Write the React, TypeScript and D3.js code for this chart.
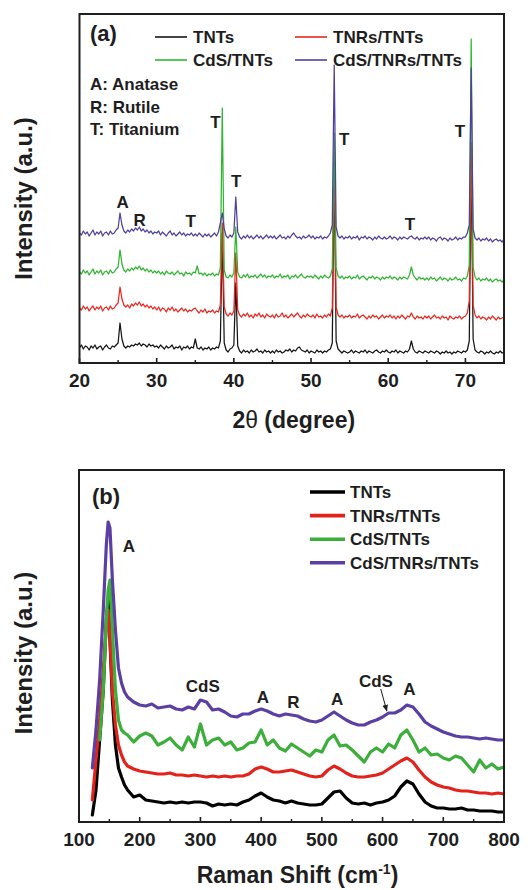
import React from "react";
import * as d3 from "d3";

const FONT = "'Liberation Sans', Arial, Helvetica, sans-serif";

const seriesNames = ["TNTs", "TNRs/TNTs", "CdS/TNTs", "CdS/TNRs/TNTs"];
const xrdColors = ["#151515", "#e8271f", "#2fb52f", "#4f409e"];
const ramanColors = ["#000000", "#e3231b", "#3cae3a", "#5b3fa3"];

// ---------- (a) XRD patterns, 2θ = 20°…75° sampled every 0.25° ----------
const xrdTwoTheta = d3.range(0, 221).map((i) => 20 + i * 0.25);

const xrdTNTs = [
  15, 18, 14, 17, 16, 13, 17, 15, 18, 14, 16, 17, 13, 16, 18, 15, 14, 17, 16, 18,
  20, 40, 24, 17, 15, 17, 16, 18, 17, 19, 18, 20, 17, 19, 18, 16, 19, 17, 18, 16,
  17, 15, 18, 16, 14, 17, 15, 16, 18, 14, 16, 15, 17, 13, 16, 15, 17, 14, 16, 15,
  24, 15, 14, 16, 13, 15, 14, 16, 13, 15, 14, 16, 15, 22, 130, 20, 13, 11, 14, 15,
  18, 80, 17, 12, 10, 13, 11, 12, 10, 13, 11, 12, 14, 11, 12, 10, 13, 11, 12, 10,
  12, 10, 13, 11, 12, 10, 11, 13, 12, 14, 11, 13, 12, 15, 16, 13, 12, 11, 13, 10,
  12, 11, 10, 13, 11, 12, 10, 12, 11, 13, 14, 20, 200, 22, 14, 12, 10, 12, 11, 10,
  11, 13, 10, 12, 11, 10, 12, 11, 13, 10, 12, 11, 10, 12, 13, 11, 10, 12, 11, 13,
  11, 10, 12, 11, 13, 10, 12, 11, 10, 12, 11, 14, 22, 14, 11, 10, 12, 11, 10, 12,
  11, 10, 12, 11, 10, 12, 11, 9, 11, 10, 12, 10, 11, 9, 11, 10, 12, 11, 10, 12,
  11, 13, 22, 200, 24, 13, 11, 10, 12, 11, 9, 11, 10, 12, 10, 9, 11, 10, 12, 10,
  11,
];

const xrdTNRs = [
  55, 53, 57, 54, 56, 52, 55, 57, 53, 56, 54, 57, 52, 55, 56, 53, 57, 54, 55, 58,
  60, 76, 64, 58, 56, 58, 55, 59, 57, 60, 58, 61, 57, 59, 56, 58, 55, 57, 54, 56,
  53, 56, 52, 55, 54, 51, 55, 53, 56, 52, 54, 51, 53, 55, 52, 54, 51, 53, 52, 54,
  55, 52, 50, 53, 51, 54, 50, 52, 51, 53, 50, 52, 51, 58, 140, 56, 49, 47, 50, 48,
  52, 110, 53, 48, 46, 49, 47, 50, 46, 48, 45, 49, 47, 50, 46, 48, 45, 49, 47, 46,
  48, 45, 49, 46, 47, 50, 46, 48, 45, 47, 49, 46, 48, 50, 47, 45, 48, 46, 49, 47,
  46, 48, 45, 49, 46, 47, 45, 48, 46, 49, 47, 55, 210, 56, 48, 46, 48, 45, 47, 46,
  48, 45, 47, 46, 49, 45, 47, 48, 46, 44, 47, 45, 48, 46, 47, 44, 46, 48, 45, 47,
  46, 48, 45, 47, 44, 47, 45, 48, 46, 44, 47, 46, 50, 46, 44, 47, 45, 46, 44, 47,
  45, 47, 44, 46, 48, 45, 46, 44, 47, 45, 46, 43, 47, 45, 44, 46, 45, 47, 44, 46,
  47, 50, 62, 220, 58, 48, 45, 47, 44, 46, 45, 43, 46, 44, 47, 45, 43, 46, 44, 45,
  46,
];

const xrdCdS = [
  91, 89, 93, 90, 92, 88, 91, 94, 89, 92, 90, 93, 88, 91, 92, 89, 93, 90, 91, 94,
  96, 113, 99, 93, 91, 94, 92, 95, 93, 96, 94, 97, 93, 95, 92, 94, 91, 93, 90, 92,
  90, 92, 89, 91, 88, 92, 90, 89, 91, 88, 90, 92, 89, 90, 87, 91, 89, 90, 88, 91,
  90, 97, 89, 90, 88, 90, 87, 89, 88, 90, 87, 89, 88, 95, 255, 93, 86, 85, 88, 86,
  90, 136, 91, 86, 85, 88, 86, 89, 85, 87, 86, 88, 85, 87, 89, 86, 88, 85, 87, 86,
  88, 85, 87, 86, 89, 85, 87, 86, 88, 84, 87, 86, 88, 85, 87, 89, 86, 85, 87, 86,
  87, 85, 88, 86, 84, 87, 85, 88, 86, 85, 87, 94, 230, 95, 87, 85, 87, 84, 86, 85,
  87, 84, 86, 85, 88, 84, 86, 87, 85, 83, 86, 85, 87, 84, 86, 85, 83, 86, 84, 86,
  85, 87, 84, 86, 85, 83, 86, 84, 86, 85, 84, 88, 96, 88, 85, 83, 86, 84, 85, 83,
  85, 83, 86, 84, 85, 82, 84, 86, 83, 85, 84, 82, 85, 83, 84, 86, 83, 84, 82, 85,
  84, 87, 98, 324, 96, 86, 83, 85, 82, 84, 83, 85, 82, 84, 81, 83, 84, 82, 83, 81,
  83,
];

const xrdCdSTNRs = [
  130, 128, 132, 129, 131, 127, 130, 133, 128, 131, 129, 132, 127, 130, 131, 128, 132, 129, 130, 133,
  135, 150, 138, 132, 130, 133, 131, 134, 132, 135, 133, 136, 132, 134, 131, 133, 130, 132, 129, 131,
  130, 132, 128, 131, 129, 127, 130, 132, 128, 130, 127, 129, 131, 128, 130, 127, 129, 128, 130, 127,
  129, 127, 130, 128, 126, 129, 127, 129, 126, 128, 130, 127, 131, 140, 150, 134, 127, 125, 128, 126,
  130, 166, 131, 126, 124, 127, 125, 128, 125, 127, 124, 126, 128, 125, 127, 124, 126, 128, 125, 127,
  125, 127, 124, 126, 128, 125, 126, 124, 127, 125, 128, 130, 127, 125, 126, 124, 127, 125, 126, 128,
  125, 127, 124, 126, 125, 127, 124, 126, 125, 127, 130, 138, 298, 136, 127, 125, 127, 124, 126, 125,
  127, 124, 126, 125, 127, 123, 126, 125, 127, 124, 126, 125, 123, 126, 124, 127, 125, 124, 126, 124,
  125, 127, 124, 126, 125, 123, 126, 124, 126, 125, 124, 126, 127, 125, 124, 126, 123, 125, 124, 126,
  124, 126, 123, 125, 124, 122, 125, 126, 123, 125, 124, 122, 125, 123, 124, 126, 123, 125, 124, 126,
  126, 130, 138, 295, 134, 125, 123, 125, 122, 124, 123, 125, 122, 124, 121, 123, 124, 122, 123, 121,
  124,
];

const xrdSeries = [xrdTNTs, xrdTNRs, xrdCdS, xrdCdSTNRs];
const xrdTicks = [20, 30, 40, 50, 60, 70];
const xrdMinorTicks = [25, 35, 45, 55, 65, 75];

// Phase markers: [label, 2θ, intensity]
const xrdMarkers: [string, number, number][] = [
  ["A", 25.6, 155],
  ["R", 27.8, 137],
  ["T", 34.4, 136],
  ["T", 37.6, 235],
  ["T", 40.3, 176],
  ["T", 54.3, 218],
  ["T", 62.8, 133],
  ["T", 69.3, 226],
];
const phaseKey = ["A: Anatase", "R: Rutile", "T: Titanium"];

// ---------- (b) Raman spectra ----------
const ramanShift = [
  122, 128, 134, 140, 145, 148, 151, 155, 160, 165, 170, 175, 180, 190, 200,
  210, 220, 230, 240, 250, 260, 270, 280, 290, 300, 310, 320, 330, 340, 350,
  360, 370, 380, 390, 400, 410, 420, 430, 440, 450, 460, 470, 480, 490, 500,
  510, 520, 530, 540, 550, 560, 570, 580, 590, 600, 610, 620, 630, 640, 650,
  660, 670, 680, 690, 700, 710, 720, 730, 740, 750, 760, 770, 780, 790, 800,
];

const ramanTNTs = [
  7, 32, 82, 132, 202, 222, 182, 122, 77, 54, 45, 37, 32, 25, 27,
  22, 21, 20, 19, 20, 19, 20, 19, 20, 20, 19, 16, 18, 17, 18,
  17, 20, 22, 26, 29, 25, 22, 21, 19, 21, 19, 18, 17, 17, 18,
  24, 30, 31, 24, 19, 18, 19, 17, 19, 20, 22, 26, 35, 41, 38,
  28, 20, 16, 14, 14, 13, 13, 14, 12, 12, 11, 11, 11, 10, 10,
];

const ramanTNRs = [
  22, 62, 102, 152, 197, 212, 182, 132, 97, 77, 67, 60, 56, 53, 51,
  50, 49, 48, 48, 49, 47, 47, 46, 47, 46, 45, 46, 45, 46, 45,
  46, 46, 48, 53, 55, 53, 50, 50, 51, 52, 50, 48, 46, 45, 46,
  52, 56, 53, 49, 46, 45, 45, 46, 47, 49, 53, 57, 61, 64, 60,
  52, 45, 40, 37, 35, 34, 32, 31, 31, 30, 29, 29, 28, 29, 28,
];

const ramanCdS = [
  null, null, 82, 132, 202, 232, 242, 192, 132, 102, 92, 89, 87, 80, 86,
  89, 86, 77, 80, 84, 77, 72, 85, 75, 98, 77, 82, 84, 77, 80,
  72, 74, 79, 80, 92, 77, 82, 74, 71, 78, 74, 70, 66, 72, 70,
  82, 87, 76, 77, 72, 66, 60, 70, 74, 70, 78, 74, 87, 92, 82,
  70, 74, 67, 68, 64, 62, 66, 64, 57, 50, 62, 54, 58, 53, 55,
];

const ramanCdSTNRs = [
  54, 92, 142, 212, 277, 300, 294, 242, 192, 154, 139, 130, 125, 120, 117,
  116, 118, 114, 115, 116, 113, 112, 115, 113, 122, 120, 112, 113, 110, 106,
  105, 108, 108, 111, 113, 111, 108, 106, 108, 107, 106, 103, 101, 100, 102,
  106, 110, 106, 102, 99, 97, 97, 100, 102, 105, 109, 109, 112, 117, 115,
  108, 100, 96, 93, 90, 88, 86, 85, 85, 84, 83, 84, 83, 82, 82,
];

const ramanSeries: (number | null)[][] = [ramanTNTs, ramanTNRs, ramanCdS, ramanCdSTNRs];
const ramanTicks = [100, 200, 300, 400, 500, 600, 700, 800];
const ramanMinorTicks = [150, 250, 350, 450, 550, 650, 750];

// Band assignments: [label, Raman shift, intensity]
const ramanMarkers: [string, number, number][] = [
  ["A", 182, 270],
  ["CdS", 304, 130],
  ["A", 403, 119],
  ["R", 453, 114],
  ["A", 525, 117],
  ["CdS", 589, 135],
  ["A", 644, 127],
];
// arrow from the second CdS label down to its shoulder on the top spectrum
const cdsArrow = { from: [597, 133], to: [607, 111] };

// ---------- layout ----------
const W = 532;
const H = 890;
const frameA = { left: 79.5, right: 504, top: 14, bottom: 363 };
const frameB = { left: 79, right: 504, top: 470, bottom: 822 };
const INK = "#1e1e1e";

function Axis({
  frame,
  x,
  majors,
  minors,
  labelY,
}: {
  frame: typeof frameA;
  x: d3.ScaleLinear<number, number>;
  majors: number[];
  minors: number[];
  labelY: number;
}) {
  return (
    <g>
      {majors.map((t) => (
        <line key={"M" + t} x1={x(t)} x2={x(t)} y1={frame.bottom} y2={frame.bottom - 5} stroke={INK} strokeWidth={1.6} />
      ))}
      {minors.map((t) => (
        <line key={"m" + t} x1={x(t)} x2={x(t)} y1={frame.bottom} y2={frame.bottom - 3} stroke={INK} strokeWidth={1.4} />
      ))}
      {majors.map((t) => (
        <text key={"L" + t} x={x(t)} y={labelY} textAnchor="middle" fontSize={19} fontWeight="bold" fill={INK}>
          {t}
        </text>
      ))}
    </g>
  );
}

function PanelA() {
  const x = d3.scaleLinear().domain([20, 75]).range([frameA.left, frameA.right]);
  const y = d3.scaleLinear().domain([0, 349]).range([frameA.bottom, frameA.top]);
  const line = d3
    .line<number>()
    .x((_, i) => x(xrdTwoTheta[i]))
    .y((d) => y(d));

  return (
    <g>
      <defs>
        <clipPath id="clipA">
          <rect x={frameA.left} y={frameA.top} width={frameA.right - frameA.left} height={frameA.bottom - frameA.top} />
        </clipPath>
      </defs>
      <g clipPath="url(#clipA)">
        {xrdSeries.map((s, k) => (
          <path key={k} d={line(s) || ""} fill="none" stroke={xrdColors[k]} strokeWidth={1.25} strokeLinejoin="round" />
        ))}
      </g>
      <rect
        x={frameA.left}
        y={frameA.top}
        width={frameA.right - frameA.left}
        height={frameA.bottom - frameA.top}
        fill="none"
        stroke={INK}
        strokeWidth={2}
      />
      <Axis frame={frameA} x={x} majors={xrdTicks} minors={xrdMinorTicks} labelY={387} />

      <text x={90} y={41} fontSize={22} fontWeight="bold" fill={INK}>(a)</text>

      {/* legend, two columns */}
      {seriesNames.map((n, k) => {
        const col = k % 2;
        const row = Math.floor(k / 2);
        const lx = col === 0 ? 155 : 295;
        const ly = 37 + row * 23;
        return (
          <g key={n}>
            <line x1={lx} x2={lx + 32} y1={ly} y2={ly} stroke={xrdColors[k]} strokeWidth={1.6} />
            <text x={lx + 38} y={ly + 6} fontSize={17} fontWeight="bold" fill={INK}>{n}</text>
          </g>
        );
      })}

      {phaseKey.map((t, i) => (
        <text key={t} x={90} y={90 + i * 22.5} fontSize={17} fontWeight="bold" fill={INK}>{t}</text>
      ))}

      {xrdMarkers.map(([t, tt, v], i) => (
        <text key={i} x={x(tt)} y={y(v)} textAnchor="middle" fontSize={17} fontWeight="bold" fill={INK}>{t}</text>
      ))}

      <text
        transform={`translate(32, ${(frameA.top + frameA.bottom) / 2 + 10}) rotate(-90)`}
        textAnchor="middle"
        fontSize={24}
        fontWeight="bold"
        fill={INK}
      >
        Intensity (a.u.)
      </text>
      <text x={(frameA.left + frameA.right) / 2 + 2} y={428} textAnchor="middle" fontSize={23} fontWeight="bold" fill={INK}>
        2<tspan fontWeight="normal">θ</tspan> (degree)
      </text>
    </g>
  );
}

function PanelB() {
  const x = d3.scaleLinear().domain([100, 800]).range([frameB.left, frameB.right]);
  const y = d3.scaleLinear().domain([0, 352]).range([frameB.bottom, frameB.top]);
  const line = d3
    .line<number | null>()
    .defined((d) => d !== null)
    .x((_, i) => x(ramanShift[i]))
    .y((d) => y(d as number));

  return (
    <g>
      <defs>
        <clipPath id="clipB">
          <rect x={frameB.left} y={frameB.top} width={frameB.right - frameB.left} height={frameB.bottom - frameB.top} />
        </clipPath>
        <marker id="arrowHead" viewBox="0 0 10 10" refX={9} refY={5} markerWidth={7} markerHeight={7} orient="auto">
          <path d="M0,1 L10,5 L0,9 Z" fill={INK} />
        </marker>
      </defs>
      <g clipPath="url(#clipB)">
        {ramanSeries.map((s, k) => (
          <path key={k} d={line(s) || ""} fill="none" stroke={ramanColors[k]} strokeWidth={3.2} strokeLinejoin="round" strokeLinecap="round" />
        ))}
      </g>
      <rect
        x={frameB.left}
        y={frameB.top}
        width={frameB.right - frameB.left}
        height={frameB.bottom - frameB.top}
        fill="none"
        stroke={INK}
        strokeWidth={2}
      />
      <Axis frame={frameB} x={x} majors={ramanTicks} minors={ramanMinorTicks} labelY={846} />

      <text x={92} y={504} fontSize={22} fontWeight="bold" fill={INK}>(b)</text>

      {seriesNames.map((n, k) => {
        const ly = 492 + k * 23.6;
        return (
          <g key={n}>
            <line x1={310} x2={345} y1={ly} y2={ly} stroke={ramanColors[k]} strokeWidth={3.6} />
            <text x={350} y={ly + 6} fontSize={17} fontWeight="bold" fill={INK}>{n}</text>
          </g>
        );
      })}

      {ramanMarkers.map(([t, s, v], i) => (
        <text key={i} x={x(s)} y={y(v)} textAnchor="middle" fontSize={17} fontWeight="bold" fill={INK}>{t}</text>
      ))}
      <line
        x1={x(cdsArrow.from[0])}
        y1={y(cdsArrow.from[1])}
        x2={x(cdsArrow.to[0])}
        y2={y(cdsArrow.to[1])}
        stroke={INK}
        strokeWidth={1}
        markerEnd="url(#arrowHead)"
      />

      <text
        transform={`translate(32, ${(frameB.top + frameB.bottom) / 2 + 7}) rotate(-90)`}
        textAnchor="middle"
        fontSize={24}
        fontWeight="bold"
        fill={INK}
      >
        Intensity (a.u.)
      </text>
      <text x={(frameB.left + frameB.right) / 2 + 6} y={883} textAnchor="middle" fontSize={23} fontWeight="bold" fill={INK}>
        Raman Shift (cm
        <tspan fontSize={14} dy={-9}>-1</tspan>
        <tspan dy={9}>)</tspan>
      </text>
    </g>
  );
}

export default function App() {
  return (
    <svg
      width={W}
      height={H}
      viewBox={`0 0 ${W} ${H}`}
      style={{ position: "absolute", left: 0, top: 0, display: "block", background: "#fff" }}
      fontFamily={FONT}
    >
      <rect width={W} height={H} fill="#fff" />
      <PanelA />
      <PanelB />
    </svg>
  );
}
